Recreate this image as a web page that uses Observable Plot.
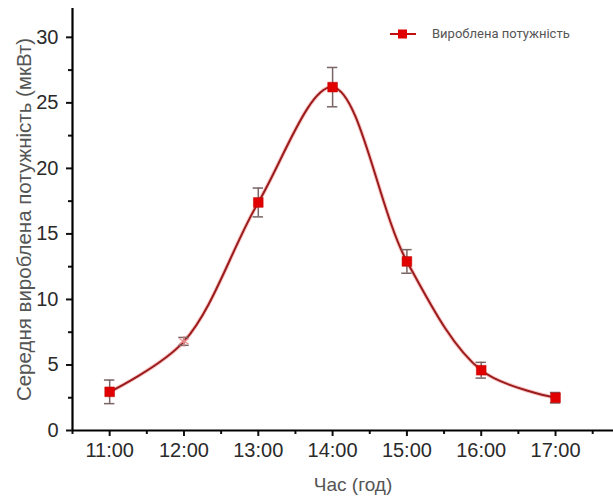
<!DOCTYPE html>
<html>
<head>
<meta charset="utf-8">
<script src="https://cdn.jsdelivr.net/npm/d3@7"></script>
<script src="https://cdn.jsdelivr.net/npm/@observablehq/plot@0.6"></script>
<style>
  body { margin: 0; background: #fff; font-family: "Liberation Sans", Arial, sans-serif; }
  #wrap { position: relative; width: 613px; height: 503px; }
  #legend { position: absolute; left: 388px; top: 26px; display: flex; align-items: center; font-size: 13px; color: #555; font-family: Roboto, "Liberation Sans", sans-serif; }
</style>
</head>
<body>
<div id="wrap">
  <div id="chart"></div>
  <div id="legend">
    <svg width="30" height="14"><line x1="2" y1="7" x2="28" y2="7" stroke="#c01010" stroke-width="2"/><rect x="10" y="2.5" width="9" height="9" fill="#e00000"/></svg>
    <span style="margin-left:14px">Вироблена потужність</span>
  </div>
</div>
<script>
const hours = [11, 12, 13, 14, 15, 16, 17];
const power = [2.95, 6.8, 17.4, 26.2, 12.9, 4.6, 2.5];
const errs  = [0.9, 0.3, 1.1, 1.5, 0.9, 0.6, 0.4];
const xTickLabels = ["11:00", "12:00", "13:00", "14:00", "15:00", "16:00", "17:00"];
const xMinorTicks = [10.5, 11.5, 12.5, 13.5, 14.5, 15.5, 16.5, 17.5];
const yTicks = [0, 5, 10, 15, 20, 25, 30];
const yMinorTicks = [2.5, 7.5, 12.5, 17.5, 22.5, 27.5];
const yLabel = "Середня вироблена потужність (мкВт)";
const xLabel = "Час (год)";

const data = hours.map((h, i) => ({h, v: power[i], e: errs[i], odd: i === 1}));
const capW = 0.07;

const chart = Plot.plot({
  width: 613,
  height: 503,
  marginLeft: 72,
  marginRight: 0,
  marginTop: 8,
  marginBottom: 73,
  x: {domain: [10.5, 17.78]},
  y: {domain: [0, 32.2]},
  style: {fontFamily: "'Liberation Sans', Arial, sans-serif", background: "#fff"},
  marks: [
    // minor ticks
    Plot.axisX({ticks: xMinorTicks, tickFormat: () => "", tickSize: 4, strokeWidth: 2, stroke: "#111", strokeOpacity: 1, label: null}),
    Plot.axisY({ticks: yMinorTicks, tickFormat: () => "", tickSize: 4, strokeWidth: 2, stroke: "#111", strokeOpacity: 1, label: null}),
    // major ticks
    Plot.axisX({ticks: hours, tickFormat: d => xTickLabels[hours.indexOf(d)], tickSize: 6, tickPadding: 6, strokeWidth: 2, stroke: "#111", strokeOpacity: 1, fontSize: 20, fill: "#2a2a2a", label: null}),
    Plot.axisY({ticks: yTicks, tickSize: 6, tickPadding: 8, strokeWidth: 2, stroke: "#111", strokeOpacity: 1, fontSize: 20, fill: "#2a2a2a", label: null}),
    Plot.ruleX([10.5], {stroke: "#000", strokeWidth: 2.2}),
    Plot.ruleY([0], {stroke: "#000", strokeWidth: 2.2}),
    // curve with halo
    Plot.line(data, {x: "h", y: "v", curve: "catmull-rom", stroke: "#f06060", strokeWidth: 4, strokeOpacity: 0.35}),
    Plot.line(data, {x: "h", y: "v", curve: "catmull-rom", stroke: "#9a1c1c", strokeWidth: 2}),
    // error bars
    Plot.ruleX(data, {x: "h", y1: d => d.v - d.e, y2: d => d.v + d.e, stroke: "#7a6464", strokeWidth: 1.5}),
    Plot.ruleY(data, {y: d => d.v + d.e, x1: d => d.h - capW, x2: d => d.h + capW, stroke: "#7a6464", strokeWidth: 1.5}),
    Plot.ruleY(data, {y: d => d.v - d.e, x1: d => d.h - capW, x2: d => d.h + capW, stroke: "#7a6464", strokeWidth: 1.5}),
    // markers
    Plot.dot(data.filter(d => !d.odd), {x: "h", y: "v", symbol: "square", r: 5.5, fill: "#e00000", stroke: "#c00000", strokeWidth: 0.5}),
    Plot.dot(data.filter(d => d.odd), {x: "h", y: "v", symbol: "asterisk", r: 5, stroke: "#e88a8a", strokeWidth: 1.2}),
    // axis titles
    Plot.text([yLabel], {frameAnchor: "left", textAnchor: "middle", rotate: -90, dx: -48, fontSize: 20.5, fill: "#555"}),
    Plot.text([xLabel], {frameAnchor: "bottom", textAnchor: "middle", dy: 60, dx: 10, fontSize: 19, fill: "#555"})
  ]
});
document.getElementById("chart").appendChild(chart);
</script>
</body>
</html>
